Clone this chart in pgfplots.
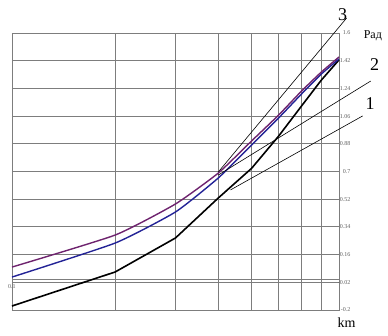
\documentclass[border=0pt]{standalone}
\usepackage{fontspec}
\setmainfont{Liberation Serif}
\usepackage{pgfplots}
\pgfplotsset{compat=1.18}
\definecolor{gridc}{RGB}{125,125,125}
\definecolor{purp}{RGB}{110,35,110}
\definecolor{bluec}{RGB}{35,35,150}
\definecolor{tickc}{RGB}{95,95,95}
\begin{document}
\begin{tikzpicture}
\begin{axis}[scale only axis, width=327pt, height=277pt,
 xmode=log, xmin=0.1, xmax=0.9, ymin=-0.2, ymax=1.6,
 xtick={0.1,0.2,0.3,0.4,0.5,0.6,0.7,0.8,0.9}, xticklabels={},
 ytick={-0.2,-0.02,0.16,0.34,0.52,0.7,0.88,1.06,1.24,1.42,1.6},
 yticklabels={-0.2,-0.02,0.16,0.34,0.52,0.7,0.88,1.06,1.24,1.42,1.6},
 extra y ticks={0}, extra y tick labels={},
 extra y tick style={grid=major},
 grid=major, major grid style={gridc, line width=0.9pt},
 axis line style={gridc, line width=0.9pt},
 major tick length=0pt,
 yticklabel pos=right,
 /pgf/number format/assume math mode=true,
 yticklabel style={font=\fontsize{6}{6}\selectfont, text=tickc, anchor=east, xshift=15pt},
 clip=false,
]
\coordinate (bl) at (rel axis cs:0,0);
\coordinate (tr) at (rel axis cs:1,1);
% black curve
\addplot[black, line width=1.6pt, line join=round] coordinates {
 (0.1,-0.174) (0.2,0.047) (0.3,0.268) (0.4,0.528) (0.5,0.720) (0.6,0.930) (0.7,1.126) (0.8,1.295) (0.9,1.425)};
% blue curve
\addplot[bluec, line width=1.4pt, smooth, tension=0.3] coordinates {
 (0.1,0.014) (0.2,0.235) (0.3,0.437) (0.4,0.658) (0.5,0.872) (0.6,1.048) (0.7,1.204) (0.8,1.334) (0.9,1.431)};
% purple curve
\addplot[purp, line width=1.4pt, smooth, tension=0.3] coordinates {
 (0.1,0.079) (0.2,0.287) (0.3,0.489) (0.4,0.690) (0.5,0.898) (0.6,1.067) (0.7,1.223) (0.8,1.347) (0.9,1.444)};
% tangent lines
\addplot[black, line width=0.6pt] coordinates {(0.434,0.580) (1.055,1.061)};
\addplot[black, line width=0.6pt] coordinates {(0.4,0.677) (1.114,1.288)};
\addplot[black, line width=0.6pt] coordinates {(0.4,0.697) (0.947,1.697)};
\node[font=\fontsize{18}{18}\selectfont] at (axis cs:0.922,1.717) {3};
\node[font=\fontsize{18}{18}\selectfont] at (axis cs:1.144,1.392) {2};
\node[font=\fontsize{18}{18}\selectfont] at (axis cs:1.11,1.14) {1};
\node[font=\fontsize{12}{12}\selectfont] at (axis cs:1.13,1.58) {Рад};
\node[font=\fontsize{14}{14}\selectfont] at (axis cs:0.947,-0.285) {km};
\node[font=\fontsize{6}{6}\selectfont, text=tickc, anchor=north west, inner sep=1pt] at ([xshift=-5pt]axis cs:0.1,-0.025) {0.1};
\end{axis}
\pgfresetboundingbox
\path ([shift={(-12pt,-26pt)}]bl) rectangle ([shift={(49pt,33pt)}]tr);
\end{tikzpicture}
\end{document}
